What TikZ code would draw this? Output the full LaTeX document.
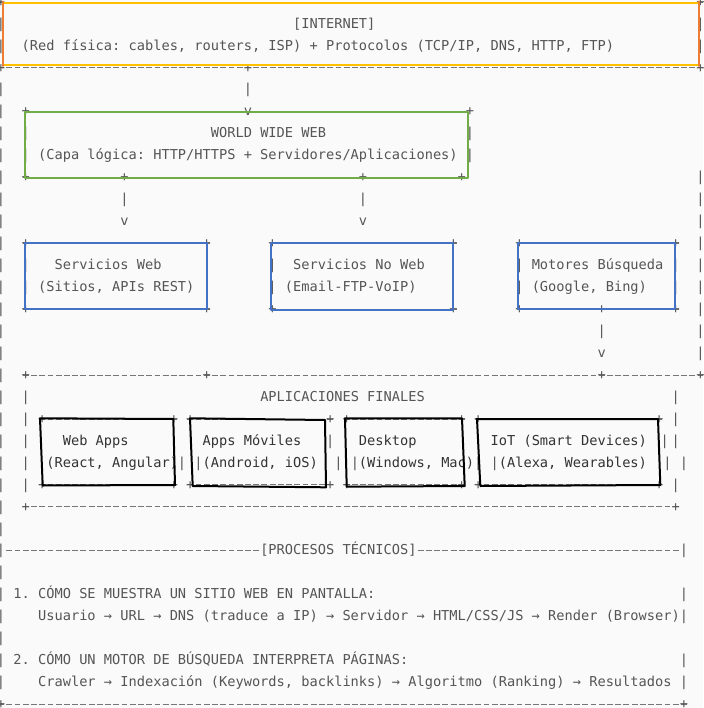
\documentclass[tikz,border=0pt]{standalone}
\usepackage{fontspec}
\newfontfamily\asciifont{DejaVu Sans Mono}
\definecolor{txtc}{HTML}{555555}
\definecolor{darkc}{HTML}{333333}
\definecolor{rulec}{HTML}{767676}
\definecolor{bgc}{HTML}{FAFAFA}
\definecolor{ogold}{HTML}{FFC000}
\definecolor{oorange}{HTML}{ED7D31}
\definecolor{ogreen}{HTML}{70AD47}
\definecolor{oblue}{HTML}{4472C4}
\tikzset{
  txt/.style={anchor=base west, inner sep=0pt, outer sep=0pt,
    font=\asciifont\fontsize{13.665}{16}\selectfont\frenchspacing, text=txtc},
  glyph/.style={txt, anchor=base},
  dk/.style={text=darkc},
  rl/.style={draw=rulec, line width=0.9pt, dash pattern=on 5.83pt off 2.397pt},
  goldline/.style={draw=ogold, line width=2pt, line cap=round},
  orangeline/.style={draw=oorange, line width=2pt, line cap=round},
  greenbox/.style={draw=ogreen, line width=2pt, line join=round},
  bluebox/.style={draw=oblue, line width=2pt, line join=round},
  blackbox/.style={draw=black, line width=2pt, line join=round}
}
% single ASCII glyphs, centred in their character cell
\newcommand{\mkbar}[2]{\node[glyph] (vb-#1-#2) at ({-3+8.227*(#1+0.5)},{6.2+21.95*#2}) {\makebox[0pt]{|}};}
\newcommand{\mkplus}[2]{\node[glyph] (pl-#1-#2) at ({-3+8.227*(#1+0.5)},{6.2+21.95*#2}) {\makebox[0pt]{+}};}
\newcommand{\mkvee}[2]{\node[glyph] (vv-#1-#2) at ({-3+8.227*(#1+0.5)},{6.2+21.95*#2}) {\makebox[0pt]{v}};}
\newcommand{\mkrule}[3]{\draw[rl] ({-3+8.227*#2+1.2},{2+21.95*#1}) -- ({-3+8.227*(#3+1)-1.2},{2+21.95*#1});}
\newcommand{\mktext}[5][]{\node[txt,#1] (#2) at ({-3+8.227*#3},{6.2+21.95*#4}) {#5};}
\begin{document}
\frenchspacing
\begin{tikzpicture}[x=1pt,y=-1pt]
\useasboundingbox (0,0) rectangle (703,708);
\fill[bgc] (0,0) rectangle (703,708);

% ---- dashed rules (rows of '-')
\mkrule{0}{0}{85}
\mkrule{3}{0}{85}
\mkrule{5}{4}{29}
\mkrule{5}{31}{56}
\mkrule{8}{3}{56}
\mkrule{11}{3}{25}
\mkrule{11}{33}{55}
\mkrule{11}{63}{82}
\mkrule{14}{3}{25}
\mkrule{14}{33}{55}
\mkrule{14}{63}{82}
\mkrule{17}{3}{85}
\mkrule{19}{5}{21}
\mkrule{19}{23}{40}
\mkrule{19}{42}{56}
\mkrule{19}{58}{80}
\mkrule{22}{5}{21}
\mkrule{22}{23}{40}
\mkrule{22}{42}{56}
\mkrule{22}{58}{80}
\mkrule{23}{3}{82}
\mkrule{25}{1}{31}
\mkrule{25}{51}{82}
\mkrule{32}{0}{83}

% ---- corner / junction marks
\foreach \c/\r in {0/0,85/0,0/3,30/3,85/3,3/5,57/5,3/8,15/8,44/8,56/8,
  3/11,25/11,33/11,55/11,63/11,82/11,
  3/14,25/14,33/14,55/14,63/14,73/14,82/14,
  3/17,25/17,73/17,85/17,
  5/19,21/19,23/19,40/19,42/19,56/19,58/19,80/19,
  5/22,21/22,23/22,40/22,42/22,56/22,58/22,80/22,
  3/23,82/23,0/32,83/32}
  {\mkplus{\c}{\r}}

% ---- vertical bars
\foreach \r in {1,2,4,5,6,7,8,9,10,11,12,13,14,15,16,17,18,19,20,21,22,23,24,25,26,27,28,29,30,31}
  {\mkbar{0}{\r}}
\foreach \c/\r in {85/1,85/2,30/4,3/6,57/6,3/7,57/7,85/8,
  15/9,44/9,85/9,85/10,85/11,
  3/12,25/12,33/12,55/12,63/12,82/12,85/12,
  3/13,25/13,33/13,55/13,63/13,82/13,85/13,
  85/14,73/15,85/15,85/16,
  3/18,82/18,3/19,82/19,
  3/20,40/20,80.66/20,82/20,
  3/21,22/21,24/21,41/21,43/21,58/21,60/21,81/21,83/21,
  3/22,82/22,83/25,83/27,83/28,83/30,83/31}
  {\mkbar{\c}{\r}}

% ---- arrow heads
\foreach \c/\r in {30/5,15/10,44/10,73/16}
  {\mkvee{\c}{\r}}

% ---- texts
\mktext{internet}{36}{1}{[INTERNET]}
\mktext{redfisica}{3}{2}{(Red física: cables, routers, ISP) + Protocolos (TCP/IP, DNS, HTTP, FTP)}
\mktext{www}{26}{6}{WORLD WIDE WEB}
\mktext{capa}{5}{7}{(Capa lógica: HTTP/HTTPS + Servidores/Aplicaciones)}
\mktext{sweb}{7}{12}{Servicios Web}
\mktext{swebb}{5}{13}{(Sitios, APIs REST)}
\mktext{snoweb}{36}{12}{Servicios No Web}
\mktext{snowebb}{35}{13}{(Email-FTP-VoIP)}
\mktext{motores}{65}{12}{Motores Búsqueda}
\mktext{motoresb}{65}{13}{(Google, Bing)}
\mktext{aplic}{32}{18}{APLICACIONES FINALES}
\mktext[dk]{webapps}{8}{20}{Web Apps}
\mktext[dk]{react}{6}{21}{(React, Angular)}
\mktext[dk]{moviles}{25}{20}{Apps Móviles}
\mktext[dk]{android}{25}{21}{(Android, iOS)}
\mktext[dk]{desktop}{44}{20}{Desktop}
\mktext[dk]{windows}{44}{21}{(Windows, Mac)}
\mktext[dk]{iot}{60}{20}{IoT (Smart Devices)}
\mktext[dk]{alexa}{61}{21}{(Alexa, Wearables)}
\mktext{procesos}{32}{25}{[PROCESOS TÉCNICOS]}
\mktext{pa}{2}{27}{1. CÓMO SE MUESTRA UN SITIO WEB EN PANTALLA:}
\mktext{pab}{5}{28}{Usuario → URL → DNS (traduce a IP) → Servidor → HTML/CSS/JS → Render (Browser)}
\mktext{pb}{2}{30}{2. CÓMO UN MOTOR DE BÚSQUEDA INTERPRETA PÁGINAS:}
\mktext{pbb}{5}{31}{Crawler → Indexación (Keywords, backlinks) → Algoritmo (Ranking) → Resultados}

% ---- coloured overlay boxes
\draw[goldline] (3.3,2.8) -- (698.7,2.8);
\draw[goldline] (3.3,65.5) -- (698.7,65.5);
\draw[orangeline] (3.3,1.5) -- (3.3,66);
\draw[orangeline] (698.7,1.5) -- (698.7,66);

\draw[greenbox] (25,112.3) rectangle (468,178.3);

\draw[bluebox] (25,243.3) rectangle (207.3,309.3);
\draw[bluebox] (270.7,243.3) rectangle (453,310);
\draw[bluebox] (517.7,243.3) rectangle (675.3,309);

\draw[blackbox] (40,418.3) -- (173.3,419) -- (175,485) -- (42.7,485.5) -- cycle;
\draw[blackbox] (190,418.3) -- (325,420) -- (326,487.3) -- (192.7,486) -- cycle;
\draw[blackbox] (345,418.3) -- (462,418.3) -- (464.7,486) -- (346.7,486.7) -- cycle;
\draw[blackbox] (477,419) -- (658,419) -- (660.3,485) -- (480.3,486) -- cycle;
\end{tikzpicture}
\end{document}
